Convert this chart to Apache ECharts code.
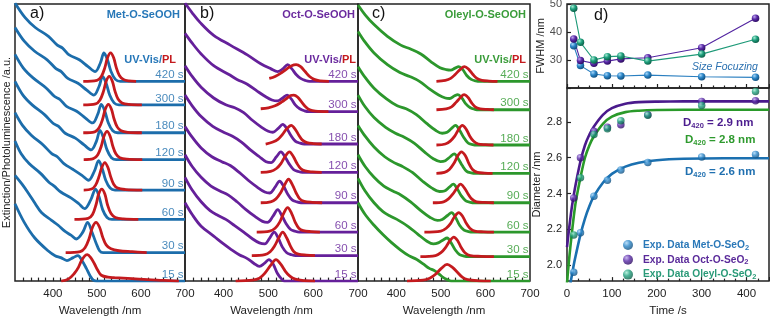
<!DOCTYPE html>
<html>
<head>
<meta charset="utf-8">
<script src="https://cdn.jsdelivr.net/npm/echarts@6/dist/echarts.min.js"></script>
<style>
  html, body { margin: 0; padding: 0; background: #fff; }
  #chart { width: 770px; height: 322px; }
</style>
</head>
<body>
<div id="chart"></div>
<script>
const FONT = 'Liberation Sans, Arial, Helvetica, sans-serif'

// wavelength axis
const wlLabels = [400, 500, 600, 700]
const wlTicks = [333.3, 350, 366.7, 383.3, 400, 416.7, 433.3, 450, 466.7, 483.3, 500, 516.7, 533.3, 550, 566.7, 583.3, 600, 616.7, 633.3, 650, 666.7, 683.3]

// spectra, top to bottom
const times = ['420 s', '300 s', '180 s', '120 s', '90 s', '60 s', '30 s', '15 s']
const metOffsets = [204, 180, 151.5, 124, 93, 63, 29, 0]
const octOffsets = [204, 173, 140, 111, 80, 50, 26, 0]
const oleylOffsets = [204, 175, 139, 110, 80, 50, 25, 0]

const metUV = [
  [[314,80],[337,65],[360,55],[390,46],[410,37],[422,34],[437,27],[460,22],[480,15],[496,10],[508,19],[516,29],[524,22],[532,10],[542,2],[553,0],[700,0]],
  [[314,79],[335,65],[358,55],[387,46],[407,37],[419,34],[434,27],[457,22],[477,15],[493,10],[505,19],[513,29],[521,22],[529,10],[539,2],[550,0],[700,0]],
  [[314,80],[333,66],[355,56],[384,46],[404,37],[416,34],[431,27],[454,22],[474,15],[490,10],[502,19],[510,29],[518,22],[526,10],[536,2],[547,0],[700,0]],
  [[314,80],[332,66],[353,56],[381,46],[401,37],[413,34],[428,27],[451,22],[471,15],[487,10],[499,19],[507,30],[515,22],[523,10],[533,2],[544,0],[700,0]],
  [[314,79],[331,66],[351,56],[378,46],[398,37],[410,34],[425,27],[446,21],[466,15],[481,10],[494,19],[504,30],[512,22],[520,10],[530,2],[541,0],[700,0]],
  [[314,80],[328,67],[346,57],[372,47],[391,38],[403,34],[418,28],[441,22],[459,16],[472,11],[486,20],[497,31],[505,23],[513,10],[523,2],[534,0],[700,0]],
  [[314,79],[330,70],[344,61],[360,50],[374,41],[397,33],[412,28],[427,22],[441,18],[453,14],[468,21],[479,31],[488,22],[498,10],[506,2],[514,0],[700,0]],
  [[314,79],[335,60],[359,44],[389,31],[405,26],[418,24],[432,21],[446,24],[457,26],[466,21],[476,13],[485,5],[492,1],[500,0],[700,0]]
]
const metPL = [
  [[469,0],[500,1],[510,5],[518,14],[524,24],[531,29],[538,24],[544,14],[551,6],[560,2],[572,0.5],[589,0]],
  [[469,0],[497,1],[507,5],[515,14],[521,24],[528,29],[535,24],[541,14],[548,6],[557,2],[572,0.5],[602,0]],
  [[469,0],[495,1],[505,5],[513,14],[519,24],[526,29],[533,24],[539,14],[546,6],[555,2],[570,0.5],[602,0]],
  [[470,0],[492,1],[502,5],[510,14],[516,24],[523,29],[530,24],[536,14],[543,6],[552,2],[568,0.5],[603,0]],
  [[470,0],[488,1],[497,5],[505,14],[511,23],[518,28],[525,23],[531,14],[538,6],[547,2],[565,0.5],[603,0]],
  [[449,0],[480,1],[490,5],[498,15],[504,26],[511,31],[518,26],[524,15],[532,6],[542,2],[560,0.5],[594,0]],
  [[429,0],[462,1],[473,5],[482,14],[490,26],[498,31],[506,26],[513,16],[521,8],[532,4],[550,2],[580,1],[613,0]],
  [[419,0],[435,2],[449,8],[458,14],[464,20],[471,25],[478,27],[486,24],[494,18],[502,11],[510,6],[525,4],[540,3.5],[580,2.5],[615,1.5],[650,0.8],[686,0]]
]

const octUV = [
  [[314,80],[330,70],[348,60],[378,47],[415,37],[453,27],[483,18],[505,13],[521,10],[533,13],[543,17],[552,13],[562,7],[572,3],[582,1],[592,0],[700,0]],
  [[314,80],[330,70],[350,59],[378,47],[412,38],[430,33],[453,28],[475,21],[495,15],[508,12],[520,11],[532,14],[542,17],[551,13],[560,7],[570,3],[580,1],[590,0],[700,0]],
  [[314,80],[330,69],[350,58],[378,47],[405,40],[425,37],[445,32],[465,24],[485,17],[500,13],[510,12],[522,16],[532,20],[541,16],[550,9],[560,3],[570,1],[580,0],[700,0]],
  [[314,79],[330,68],[350,57],[376,47],[400,41],[420,37],[440,31],[460,23],[480,16],[495,11],[506,10],[518,16],[528,21],[537,16],[546,9],[556,3],[566,1],[576,0],[700,0]],
  [[314,78],[330,67],[350,56],[374,47],[396,42],[415,38],[435,31],[455,23],[475,16],[492,11],[503,10],[515,16],[525,22],[534,17],[543,9],[553,3],[563,1],[573,0],[700,0]],
  [[314,79],[330,67],[350,56],[372,47],[392,42],[410,38],[430,31],[450,23],[470,16],[487,11],[498,10],[510,16],[521,23],[530,17],[539,9],[549,3],[559,1],[569,0],[700,0]],
  [[314,80],[330,67],[350,55],[370,46],[388,41],[405,37],[424,31],[445,24],[465,17],[480,13],[492,12],[503,18],[513,24],[522,18],[531,9],[541,3],[551,1],[561,0],[700,0]],
  [[314,80],[330,68],[350,56],[378,46],[400,38],[415,33],[435,27],[453,23],[468,18],[480,15],[491,18],[501,22],[510,18],[520,8],[528,3],[536,0],[700,0]]
]
const octPL = [
  [[502,3],[515,5],[530,9],[542,13],[552,16],[562,17],[572,15],[582,10],[592,5],[602,2],[615,0.5],[635,0]],
  [[483,3],[500,4],[515,6],[530,10],[542,14],[550,16.5],[557,17],[565,15],[574,10],[583,5],[592,2],[605,0.5],[634,0]],
  [[494,0],[510,2],[522,5],[532,10],[540,15],[551,19],[560,15],[568,9],[576,4],[586,1.5],[600,0.5],[619,0]],
  [[483,0],[505,1],[518,4],[528,9],[537,16],[547,21],[556,16],[564,9],[572,4],[582,1.5],[598,0.5],[619,0]],
  [[483,0],[505,1],[517,4],[527,10],[536,18],[545,24],[554,18],[562,10],[570,4],[580,1.5],[598,0.5],[620,0]],
  [[474,0],[503,1],[515,4],[525,10],[534,19],[543,25],[552,19],[560,10],[568,4],[578,1.5],[595,0.5],[615,0]],
  [[463,0],[492,1],[504,4],[514,10],[523,18],[532,24],[541,18],[549,10],[557,4],[567,1.5],[585,0.5],[604,0]],
  [[427,0],[465,1],[480,3],[492,8],[505,16],[517,22],[528,17],[538,10],[548,5],[560,2],[580,0.5],[604,0]]
]

const oleylUV = [
  [[314,78],[330,68],[350,58],[380,46],[410,37],[432,33],[455,28],[478,20],[498,14],[512,12],[522,11.5],[532,13.5],[540,15],[549,12],[558,6],[568,2],[578,0.5],[588,0],[700,0]],
  [[314,80],[330,69],[350,58],[380,46],[408,38],[430,34],[452,29],[475,21],[495,15],[510,12],[520,11.5],[530,14],[538,15.5],[547,12],[556,6],[566,2],[576,0.5],[586,0],[700,0]],
  [[314,80],[330,69],[350,58],[378,47],[402,40],[422,37],[445,31],[468,22],[488,15],[503,12],[514,13],[524,17],[533,20],[542,15],[551,8],[561,2],[571,0.5],[581,0],[700,0]],
  [[314,80],[330,68],[350,57],[376,47],[398,41],[418,37],[440,31],[463,22],[483,15],[499,12],[510,13],[521,17],[530,20],[539,15],[548,8],[558,2],[568,0.5],[578,0],[700,0]],
  [[314,79],[330,68],[350,57],[374,47],[395,41],[414,37],[436,31],[459,22],[480,15],[497,11.5],[508,12],[519,16],[528,19],[537,14],[546,7],[556,2],[566,0.5],[576,0],[700,0]],
  [[314,79],[330,67],[350,56],[372,47],[392,42],[410,38],[432,31],[455,22],[476,15],[492,12],[503,13],[515,17],[524,20],[533,15],[542,7],[552,2],[562,0.5],[572,0],[700,0]],
  [[314,80],[330,67],[350,55],[370,46],[388,41],[405,37],[426,31],[448,23],[468,16],[483,13],[494,14],[505,17],[514,19],[523,14],[532,7],[542,2],[552,0.5],[562,0],[700,0]],
  [[314,80],[330,68],[350,57],[371,47],[390,39],[409,32],[428,26],[446,22],[462,17],[474,13],[484,11],[494,8],[504,4],[514,1.5],[524,0],[700,0]]
]
const oleylPL = [
  [[490,0],[510,1],[522,3],[532,7],[543,12],[553,15],[563,12],[572,7],[581,3],[592,1],[608,0.3],[627,0]],
  [[490,0],[512,1],[524,3],[534,7.5],[544,12.5],[552,15.5],[561,12.5],[569,7],[577,3],[588,1],[604,0.3],[619,0]],
  [[490,0],[510,1],[521,4],[531,9],[540,16],[548,20],[557,16],[565,9],[573,4],[584,1],[600,0.3],[618,0]],
  [[490,0],[508,1],[519,4],[529,10],[538,18],[546,22],[555,18],[563,10],[571,4],[582,1],[598,0.3],[616,0]],
  [[482,0],[506,1],[517,4],[527,9],[536,15],[544,19],[553,15],[561,9],[569,4],[580,1],[598,0.3],[619,0]],
  [[463,0],[500,1],[512,4],[522,9],[531,16],[540,20],[549,16],[557,9],[565,4],[576,1],[596,0.3],[619,0]],
  [[454,0],[488,1],[500,4],[510,9],[520,16],[529,20],[538,16],[546,9],[554,4],[566,1],[590,0.3],[619,0]],
  [[424,0],[460,1],[475,3],[488,7],[501,13],[514,17],[526,14],[537,9],[548,4],[560,1.5],[585,0.3],[612,0]]
]

// panel d
const growthTimes = [15, 30, 60, 90, 120, 180, 300, 420]
const fwhmMet = [35.1, 28.0, 25.0, 24.4, 24.3, 24.6, 24.0, 23.8]
const fwhmOct = [37.5, 29.8, 28.8, 29.6, 30.4, 30.8, 34.4, 44.9]
const fwhmOleyl = [48.5, 36.3, 30.0, 31.2, 31.4, 29.6, 32.1, 37.4]
const diaMet = [1.96, 2.18, 2.384, 2.474, 2.531, 2.573, 2.604, 2.618]
const diaOct = [2.375, 2.60, 2.748, 2.77, 2.784, 2.84, 2.915, 2.918]
const diaOleyl = [2.168, 2.488, 2.73, 2.762, 2.807, 2.838, 2.892, 2.97]
const fitTimes = [0, 5, 10, 15, 20, 30, 40, 50, 60, 80, 100, 130, 160, 200, 260, 350, 450]
const fitMet = [1.78, 1.86, 1.93, 2.00, 2.06, 2.17, 2.26, 2.33, 2.385, 2.46, 2.51, 2.55, 2.572, 2.586, 2.594, 2.597, 2.597]
const fitOct = [2.10, 2.21, 2.31, 2.39, 2.46, 2.58, 2.67, 2.73, 2.775, 2.84, 2.877, 2.902, 2.911, 2.914, 2.915, 2.915, 2.915]
const fitOleyl = [1.90, 2.04, 2.16, 2.27, 2.36, 2.49, 2.60, 2.67, 2.72, 2.79, 2.83, 2.855, 2.863, 2.867, 2.868, 2.868, 2.868]
const timeLabels = [0, 100, 200, 300, 400]
const fwhmLabels = [30, 40, 50]
const diaLabels = [2.0, 2.2, 2.4, 2.6, 2.8]

const colors = {
  met: '#1c6dab',
  oct: '#65209a',
  oleyl: '#2c972c',
  pl: '#c41a1e',
}

function sphere(light, base, dark) {
  return {
    type: 'radial', x: 0.35, y: 0.3, r: 0.75,
    colorStops: [
      { offset: 0, color: light },
      { offset: 0.45, color: base },
      { offset: 1, color: dark },
    ],
  }
}
const metBall = sphere('#a8d6f8', '#2b86c8', '#0e4a78')
const octBall = sphere('#bda6ec', '#5a2aa8', '#2a0a5c')
const oleylBall = sphere('#a6ecd4', '#1fa07e', '#0b5a43')

const axisColor = '#222'
const grids = [
  { left: 14, top: 4, width: 171, height: 283 },
  { left: 185, top: 4, width: 173, height: 283 },
  { left: 358, top: 4, width: 172, height: 283 },
  { left: 567, top: 4, width: 202, height: 84 },
  { left: 567, top: 88, width: 202, height: 199 },
].map(g => ({ ...g, show: true, borderColor: axisColor, borderWidth: 1.5 }))

const xAxis = []
const yAxis = []
for (let k = 0; k < 3; k++) {
  xAxis.push({
    gridIndex: k, type: 'value', min: 314, max: 700,
    axisLine: { show: false },
    splitLine: { show: false },
    axisTick: { inside: true, length: 3.5, customValues: wlTicks, lineStyle: { color: axisColor, width: 1.2 } },
    axisLabel: { customValues: wlLabels, margin: 7, fontSize: 11.5, color: axisColor, fontFamily: FONT },
    name: 'Wavelength /nm', nameLocation: 'middle', nameGap: 19,
    nameTextStyle: { fontSize: 11.5, color: axisColor, fontFamily: FONT },
  })
  yAxis.push({
    gridIndex: k, type: 'value', min: 0, max: 283,
    axisLine: { show: false }, axisTick: { show: false }, axisLabel: { show: false }, splitLine: { show: false },
    name: k === 0 ? 'Extinction/Photoluminescence /a.u.' : '',
    nameLocation: 'middle', nameGap: 3,
    nameTextStyle: { fontSize: 11, color: axisColor, fontFamily: FONT },
  })
}
// panel d
xAxis.push({
  gridIndex: 3, type: 'value', min: 0, max: 450, interval: 100,
  axisLine: { show: false }, splitLine: { show: false }, axisLabel: { show: false },
  axisTick: { inside: true, length: 4, lineStyle: { color: axisColor, width: 1.2 } },
  minorTick: { show: true, splitNumber: 4, length: 2.5, lineStyle: { color: axisColor, width: 1.2 } },
})
xAxis.push({
  gridIndex: 4, type: 'value', min: 0, max: 450, interval: 100,
  axisLine: { show: false }, splitLine: { show: false },
  axisTick: { inside: true, length: 4, lineStyle: { color: axisColor, width: 1.2 } },
  minorTick: { show: true, splitNumber: 4, length: 2.5, lineStyle: { color: axisColor, width: 1.2 } },
  axisLabel: { customValues: timeLabels, margin: 7, fontSize: 11.5, color: axisColor, fontFamily: FONT },
  name: 'Time /s', nameLocation: 'middle', nameGap: 19,
  nameTextStyle: { fontSize: 11.5, color: axisColor, fontFamily: FONT },
})
// FWHM axis: ticks from the axis, labels drawn by a label-only series below
yAxis.push({
  gridIndex: 3, type: 'value', min: 20, max: 50, interval: 10,
  axisLine: { show: false }, splitLine: { show: false },
  axisTick: { inside: true, length: 4, lineStyle: { color: axisColor, width: 1.2 } },
  axisLabel: { show: false },
})
yAxis.push({
  gridIndex: 4, type: 'value', min: 1.91, max: 2.99,
  axisLine: { show: false }, splitLine: { show: false },
  axisTick: { inside: true, length: 4, customValues: diaLabels, lineStyle: { color: axisColor, width: 1.2 } },
  axisLabel: { customValues: diaLabels, formatter: v => v.toFixed(1), margin: 5, fontSize: 11, color: axisColor, fontFamily: FONT },
  name: 'Diameter /nm', nameLocation: 'middle', nameGap: 20,
  nameTextStyle: { fontSize: 11, color: axisColor, fontFamily: FONT },
})

const series = []
function spectra(k, uv, pl, offsets, color) {
  uv.forEach((curve, i) => {
    series.push({
      type: 'line', xAxisIndex: k, yAxisIndex: k, smooth: 0.35, showSymbol: false, silent: true,
      lineStyle: { color: color, width: 2.8 }, z: 2,
      data: curve.map(([x, y]) => [x, y + offsets[i]]),
    })
  })
  pl.forEach((curve, i) => {
    series.push({
      type: 'line', xAxisIndex: k, yAxisIndex: k, smooth: 0.35, showSymbol: false, silent: true,
      lineStyle: { color: colors.pl, width: 2.8 }, z: 3,
      data: curve.map(([x, y]) => [x, y + offsets[i]]),
    })
  })
  series.push({
    type: 'scatter', xAxisIndex: k, yAxisIndex: k, symbolSize: 0, silent: true, z: 4,
    data: offsets.map(o => [700, o]),
    label: {
      show: true, position: 'left', distance: 1.5, offset: [0, -6.5],
      formatter: p => times[p.dataIndex],
      color: color, fontSize: 11.5, fontFamily: FONT,
    },
  })
}
spectra(0, metUV, metPL, metOffsets, colors.met)
spectra(1, octUV, octPL, octOffsets, colors.oct)
spectra(2, oleylUV, oleylPL, oleylOffsets, colors.oleyl)

// FWHM tick labels, placed through the FWHM scale
series.push({
  type: 'scatter', xAxisIndex: 3, yAxisIndex: 3, symbolSize: 0, silent: true, clip: false,
  data: fwhmLabels.map(v => [0, v]),
  label: {
    show: true, position: 'left', distance: 5,
    formatter: p => String(p.value[1]),
    color: axisColor, fontSize: 11, fontFamily: FONT,
  },
})

// FWHM
;[
  [fwhmMet, '#2a7fc0', metBall],
  [fwhmOct, '#5224a0', octBall],
  [fwhmOleyl, '#1e9a78', oleylBall],
].forEach(([vals, c, ball]) => {
  series.push({
    type: 'line', xAxisIndex: 3, yAxisIndex: 3, symbol: 'circle', symbolSize: 7.5, silent: true,
    lineStyle: { color: c, width: 1.1 }, itemStyle: { color: ball },
    data: growthTimes.map((t, i) => [t, vals[i]]),
  })
})

// fits
;[
  [fitMet, '#1b70b0'],
  [fitOct, '#4a1a8c'],
  [fitOleyl, '#2a9a2a'],
].forEach(([vals, c]) => {
  series.push({
    type: 'line', xAxisIndex: 4, yAxisIndex: 4, smooth: 0.3, showSymbol: false, silent: true,
    lineStyle: { color: c, width: 2.6 }, z: 2,
    data: fitTimes.map((t, i) => [t, vals[i]]),
  })
})
// diameter points
const legendNames = ['Exp. Data Met-O-SeO2', 'Exp. Data Oct-O-SeO2', 'Exp. Data Oleyl-O-SeO2']
;[
  [diaMet, metBall, legendNames[0]],
  [diaOct, octBall, legendNames[1]],
  [diaOleyl, oleylBall, legendNames[2]],
].forEach(([vals, ball, name]) => {
  series.push({
    name: name, type: 'scatter', xAxisIndex: 4, yAxisIndex: 4, symbolSize: 7.5, z: 3,
    itemStyle: { color: ball },
    data: growthTimes.map((t, i) => [t, vals[i]]),
  })
})

const legendKeys = { [legendNames[0]]: 'a', [legendNames[1]]: 'b', [legendNames[2]]: 'c' }
function richPair(color, size) {
  return [
    { color: color, fontSize: size, fontWeight: 'bold', fontFamily: FONT, lineHeight: 13, padding: [0, 0, 0, 5] },
    { color: color, fontSize: 7.5, fontWeight: 'bold', fontFamily: FONT, lineHeight: 5, verticalAlign: 'bottom' },
  ]
}
const [ra, ras] = richPair('#2a78b8', 10.2)
const [rb, rbs] = richPair('#5a2a9a', 10.2)
const [rc, rcs] = richPair('#2a9a78', 10.2)

function textEl(x, y, text, style, rotation) {
  return {
    type: 'text', x: x, y: y, silent: true, rotation: rotation || 0,
    style: Object.assign({ text: text, fontFamily: FONT, verticalAlign: 'middle' }, style),
  }
}
function dLabel(x, y, value, color) {
  return textEl(x, y, '{m|D}{s|420}{m| = ' + value + ' nm}', {
    align: 'left',
    rich: {
      m: { fill: color, fontSize: 11.5, fontWeight: 'bold', fontFamily: FONT, lineHeight: 14 },
      s: { fill: color, fontSize: 7.5, fontWeight: 'bold', fontFamily: FONT, lineHeight: 6, verticalAlign: 'bottom' },
    },
  })
}
function uvpl(x, color) {
  return textEl(x, 60, '{c|UV-Vis/}{r|PL}', {
    align: 'right',
    rich: {
      c: { fill: color, fontSize: 11, fontWeight: 'bold', fontFamily: FONT },
      r: { fill: colors.pl, fontSize: 11, fontWeight: 'bold', fontFamily: FONT },
    },
  })
}

const option = {
  animation: false,
  grid: grids,
  xAxis: xAxis,
  yAxis: yAxis,
  series: series,
  legend: {
    data: legendNames,
    left: 618, top: 235, orient: 'vertical',
    icon: 'circle', itemWidth: 10, itemHeight: 10, itemGap: 3.3,
    selectedMode: false,
    formatter: name => {
      const k = legendKeys[name]
      return '{' + k + '|' + name.slice(0, -1) + '}{' + k + 's|2}'
    },
    textStyle: { rich: { a: ra, as: ras, b: rb, bs: rbs, c: rc, cs: rcs } },
  },
  graphic: [
    textEl(30, 14, 'a)', { fontSize: 16, fill: '#111', align: 'left' }),
    textEl(200, 14, 'b)', { fontSize: 16, fill: '#111', align: 'left' }),
    textEl(372, 14, 'c)', { fontSize: 16, fill: '#111', align: 'left' }),
    textEl(594, 16, 'd)', { fontSize: 16, fill: '#111', align: 'left' }),
    textEl(541, 46, 'FWHM /nm', { fontSize: 11, fill: axisColor, align: 'center' }, Math.PI / 2),
    textEl(180, 15, 'Met-O-SeOOH', { fontSize: 11, fontWeight: 'bold', fill: '#2677b8', align: 'right' }),
    textEl(355, 15, 'Oct-O-SeOOH', { fontSize: 11, fontWeight: 'bold', fill: '#6a2a9e', align: 'right' }),
    textEl(526, 15, 'Oleyl-O-SeOOH', { fontSize: 11, fontWeight: 'bold', fill: '#3a9c3a', align: 'right' }),
    uvpl(176, '#2677b8'),
    uvpl(356, '#6a2a9e'),
    uvpl(526, '#3a9c3a'),
    textEl(692, 67, 'Size Focuzing', { fontSize: 10.5, fontStyle: 'italic', fill: '#2a70b0', align: 'left' }),
    dLabel(683, 123, '2.9', '#4b1c8e'),
    dLabel(685, 140, '2.8', '#2e9a2e'),
    dLabel(685, 172, '2.6', '#2070b0'),
  ],
}

const myChart = echarts.init(document.getElementById('chart'), null, { renderer: 'canvas' })
myChart.setOption(option)
</script>
</body>
</html>
